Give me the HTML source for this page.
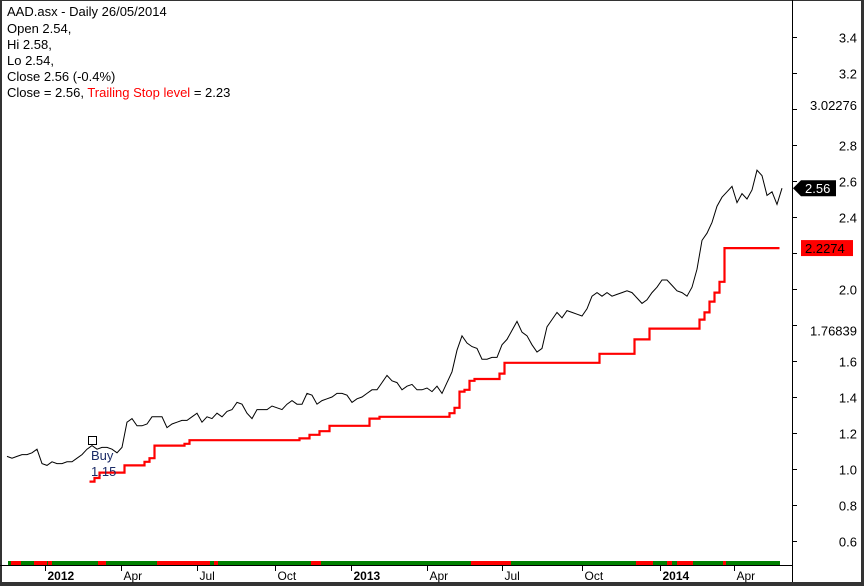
<!DOCTYPE html>
<html><head><meta charset="utf-8"><style>
html,body{margin:0;padding:0;background:#333;}
svg{display:block;font-family:"Liberation Sans",Verdana,sans-serif;}
</style></head><body>
<svg id="chart" width="864" height="586" viewBox="0 0 864 586">
<rect x="2" y="1" width="859" height="581" fill="#fff"/>
<g id="signal"></g>
<g id="stop"></g>
<g id="price"></g>
<line x1="792.5" y1="0" x2="792.5" y2="582" stroke="#000"/>
<line x1="0" y1="565.5" x2="792" y2="565.5" stroke="#000"/>
<g id="yaxis"></g>
<g id="xaxis"></g>
<g id="buy"></g>
<g id="tags"></g>
<g font-size="13" fill="#000">
<text x="7" y="16">AAD.asx - Daily 26/05/2014</text>
<text x="7" y="33">Open 2.54,</text>
<text x="7" y="49">Hi 2.58,</text>
<text x="7" y="65">Lo 2.54,</text>
<text x="7" y="81">Close 2.56 (-0.4%)</text>
<text x="7" y="97">Close = 2.56, <tspan fill="#ff0000">Trailing Stop level</tspan> = 2.23</text>
</g>
</svg>
<script>
const closes=[1.07,1.06,1.07,1.08,1.08,1.09,1.11,1.03,1.02,1.04,1.03,1.03,1.04,1.04,1.06,1.08,1.11,1.13,1.11,1.12,
1.12,1.11,1.09,1.12,1.26,1.28,1.24,1.24,1.25,1.29,1.29,1.29,1.23,1.25,1.26,1.27,1.27,1.29,1.31,1.26,
1.29,1.28,1.31,1.29,1.32,1.33,1.37,1.36,1.31,1.28,1.33,1.33,1.33,1.35,1.34,1.33,1.36,1.38,1.36,1.36,
1.42,1.41,1.36,1.38,1.39,1.40,1.42,1.42,1.41,1.37,1.39,1.40,1.42,1.44,1.44,1.48,1.52,1.49,1.48,1.44,
1.46,1.47,1.44,1.44,1.45,1.43,1.46,1.42,1.48,1.54,1.66,1.74,1.70,1.68,1.67,1.61,1.61,1.62,1.62,1.69,
1.72,1.77,1.82,1.76,1.74,1.69,1.65,1.67,1.79,1.83,1.87,1.84,1.88,1.87,1.86,1.85,1.89,1.96,1.98,1.96,
1.98,1.96,1.97,1.98,1.99,1.98,1.95,1.92,1.94,1.98,2.01,2.05,2.05,2.02,1.99,1.98,1.96,2.01,2.11,2.27,
2.31,2.37,2.46,2.51,2.54,2.57,2.48,2.53,2.50,2.55,2.66,2.63,2.52,2.54,2.47,2.56];
const stopStart=17;
const stops=[0.93,0.95,0.98,0.98,0.98,0.98,0.98,1.02,1.02,1.02,1.02,1.04,1.06,1.13,1.13,1.13,1.13,1.13,1.13,1.14,
1.16,1.16,1.16,1.16,1.16,1.16,1.16,1.16,1.16,1.16,1.16,1.16,1.16,1.16,1.16,1.16,1.16,1.16,1.16,1.16,
1.16,1.16,1.17,1.17,1.19,1.19,1.21,1.21,1.24,1.24,1.24,1.24,1.24,1.24,1.24,1.24,1.28,1.28,1.29,1.29,
1.29,1.29,1.29,1.29,1.29,1.29,1.29,1.29,1.29,1.29,1.29,1.29,1.31,1.34,1.43,1.44,1.49,1.50,1.50,1.50,
1.50,1.50,1.53,1.59,1.59,1.59,1.59,1.59,1.59,1.59,1.59,1.59,1.59,1.59,1.59,1.59,1.59,1.59,1.59,1.59,
1.59,1.59,1.64,1.64,1.64,1.64,1.64,1.64,1.64,1.72,1.72,1.72,1.78,1.78,1.78,1.78,1.78,1.78,1.78,1.78,
1.78,1.78,1.83,1.87,1.93,1.98,2.04,2.2274,2.2274,2.2274,2.2274,2.2274,2.2274,2.2274,2.2274,2.2274,2.2274,2.2274];
const redRanges=[[0.8,2.8],[5.4,8],[8.2,9],[18.2,19.8],[30,40.6],[41.4,42.2],[60.8,62.8],[92.8,100.8],[125.8,129.2],[132,133],[134,137.2],[143.2,143.8]];
const yTicks=[0.6,0.8,1.0,1.2,1.4,1.6,1.8,2.0,2.2,2.4,2.6,2.8,3.0,3.2,3.4];
const yLabels=["0.6","0.8","1.0","1.2","1.4","1.6","","2.0","","2.4","2.6","2.8","","3.2","3.4"];
const levelLabels=[3.02276,1.76839];
const xTickIdx=[7.6,22.8,38,53.6,68.8,84,99,115,130.6,145.4];
const xTickLabels=["2012","Apr","Jul","Oct","2013","Apr","Jul","Oct","2014","Apr"];
const xTickBold=[true,false,false,false,true,false,false,false,true,false];
const buyIdx=17, buyPrice=1.15;
const lastClose=2.56, lastStop=2.2274;

const NS="http://www.w3.org/2000/svg";
const X=i=>7+i*5;
const Y=v=>37+(3.4-v)*180;
function mk(tag,attrs,parent,txt){const e=document.createElementNS(NS,tag);for(const k in attrs)e.setAttribute(k,attrs[k]);if(txt!==undefined)e.textContent=txt;parent.appendChild(e);return e;}

const sg=document.getElementById('signal');
let g=mk('rect',{x:X(0)+1,y:561,width:X(closes.length-1)-X(0)-3,height:4,fill:'#008000'},sg);


redRanges.forEach(r=>{const e=mk('rect',{x:X(r[0]),y:561,width:X(r[1])-X(r[0]),height:4,fill:'#ff0000'},sg);

});

const pd=closes.map((v,i)=>(i?'L':'M')+X(i)+' '+Y(v).toFixed(1)).join(' ');
const pl=mk('path',{d:pd,fill:'none',stroke:'#000','stroke-width':1},document.getElementById('price'));



let sd='';
stops.forEach((v,j)=>{const i=stopStart+j;const x=X(i)-2.5,y=Y(v).toFixed(1);
 if(j===0)sd+='M'+x+' '+y;else sd+=' L'+x+' '+y;sd+=' L'+(x+5)+' '+y;});
const sl=mk('path',{d:sd,fill:'none',stroke:'#ff0000','stroke-width':2.2},document.getElementById('stop'));



const ya=document.getElementById('yaxis');
yTicks.forEach((v,k)=>{const y=Math.round(Y(v))+0.5;
 const t=mk('line',{x1:792,y1:y,x2:797,y2:y,stroke:'#000'},ya);
 
 
 if(yLabels[k]){const l=mk('text',{x:857,y:y+5,'text-anchor':'end','font-size':13,fill:'#000'},ya,yLabels[k]);
 
 }});
levelLabels.forEach(v=>{const l=mk('text',{x:857,y:Y(v)+5,'text-anchor':'end','font-size':13,fill:'#000'},ya,String(v));
 
 });

const xa=document.getElementById('xaxis');
xTickIdx.forEach((t,k)=>{const x=Math.round(X(t))+0.5;
 const m=mk('line',{x1:x,y1:565,x2:x,y2:571,stroke:'#000'},xa);
 
 
 const l=mk('text',{x:x+2,y:580,'font-size':12,'font-weight':xTickBold[k]?'bold':'normal',fill:'#000'},xa,xTickLabels[k]);
 
 });

const bg=document.getElementById('buy');
const bx=X(buyIdx),by=Y(buyPrice);
const bm=mk('rect',{x:bx-3.5,y:by-5.5,width:8,height:8,fill:'none',stroke:'#000'},bg);


const bt=mk('text',{x:bx-1,y:by+18,'font-size':13,fill:'#1b2b66'},bg,'Buy');


const bp=mk('text',{x:bx-1,y:by+34,'font-size':13,fill:'#1b2b66'},bg,buyPrice.toFixed(2));



const tg=document.getElementById('tags');
const cy=Y(lastClose);
const ct=mk('path',{d:`M793 ${cy} L801 ${cy-8} L836 ${cy-8} L836 ${cy+8} L801 ${cy+8} Z`,fill:'#000'},tg);


const ctt=mk('text',{x:805,y:cy+5,'font-size':13,fill:'#fff'},tg,lastClose.toFixed(2));


const sy=Y(lastStop);
const st=mk('rect',{x:801,y:sy-8,width:52,height:16,fill:'#ff0000'},tg);


const stt=mk('text',{x:805,y:sy+5,'font-size':13,fill:'#000'},tg,String(lastStop));


</script>
</body></html>
